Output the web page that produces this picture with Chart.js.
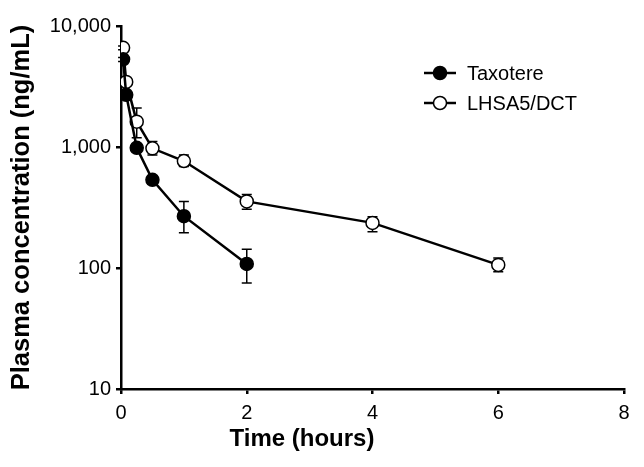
<!DOCTYPE html>
<html>
<head>
<meta charset="utf-8">
<script src="https://cdn.jsdelivr.net/npm/chart.js@4.4.1/dist/chart.umd.min.js"></script>
<style>
  html, body { margin: 0; padding: 0; background: #fff; }
  #wrap { width: 644px; height: 467px; }
</style>
</head>
<body>
<div id="wrap"><canvas id="myChart" width="644" height="467"></canvas></div>
<script>
// time points (hours)
let times = [0.033, 0.083, 0.25, 0.5, 1, 2, 4, 6];

let taxotere = [5300, 2700, 985, 535, 268, 108];
let taxotereHi = [5500, 2850, 1050, 580, 355, 143];
let taxotereLo = [5100, 2550, 920, 495, 196, 75];

let lhsa = [6600, 3450, 1620, 975, 766, 355, 236, 106];
let lhsaHi = [6850, 3650, 2100, 1110, 860, 405, 265, 121];
let lhsaLo = [6350, 3250, 1190, 860, 690, 306, 199, 93];

let yTicks = [10, 100, 1000, 10000];
let xTicks = [0, 2, 4, 6, 8];

const FONT = '"Liberation Sans", Arial, Helvetica, sans-serif';

function toPoints(vals) {
  let pts = [];
  for (let i = 0; i < vals.length; i++) {
    pts.push({ x: times[i], y: vals[i] });
  }
  return pts;
}

// whiskers, drawn before the markers so the circles sit on top
const errorBars = {
  id: 'errorBars',
  beforeDatasetsDraw(chart) {
    const ctx = chart.ctx;
    const xs = chart.scales.x, ys = chart.scales.y;
    const sets = [[taxotere, taxotereHi, taxotereLo], [lhsa, lhsaHi, lhsaLo]];
    ctx.save();
    ctx.strokeStyle = '#000';
    ctx.lineWidth = 1.5;
    sets.forEach(s => {
      for (let i = 0; i < s[0].length; i++) {
        const px = xs.getPixelForValue(times[i]);
        const top = ys.getPixelForValue(s[1][i]);
        const bot = ys.getPixelForValue(s[2][i]);
        ctx.beginPath();
        ctx.moveTo(px, top); ctx.lineTo(px, bot);
        ctx.moveTo(px - 5, top); ctx.lineTo(px + 5, top);
        ctx.moveTo(px - 5, bot); ctx.lineTo(px + 5, bot);
        ctx.stroke();
      }
    });
    ctx.restore();
  }
};

// legend inside the plot + x title offset to the left like the figure
const extras = {
  id: 'extras',
  afterDraw(chart) {
    const ctx = chart.ctx;
    ctx.save();
    const rows = [
      { label: 'Taxotere', fill: '#000', y: 73 },
      { label: 'LHSA5/DCT', fill: '#fff', y: 103 }
    ];
    rows.forEach(r => {
      ctx.strokeStyle = '#000';
      ctx.lineWidth = 2.5;
      ctx.beginPath();
      ctx.moveTo(424, r.y); ctx.lineTo(456, r.y);
      ctx.stroke();
      ctx.beginPath();
      ctx.arc(440, r.y, 6.5, 0, Math.PI * 2);
      ctx.fillStyle = r.fill;
      ctx.fill();
      ctx.lineWidth = 1.5;
      ctx.stroke();
      ctx.fillStyle = '#000';
      ctx.font = '20px ' + FONT;
      ctx.textAlign = 'left';
      ctx.textBaseline = 'middle';
      ctx.fillText(r.label, 467, r.y + 1);
    });
    ctx.font = 'bold 24px ' + FONT;
    ctx.textAlign = 'center';
    ctx.textBaseline = 'middle';
    ctx.fillText('Time (hours)', 302, 439);
    ctx.restore();
  }
};

let canvas = document.getElementById('myChart');
let ctx = canvas.getContext('2d');

let myChart = new Chart(ctx, {
  type: 'line',
  data: {
    datasets: [{
      label: 'Taxotere',
      data: toPoints(taxotere),
      borderColor: '#000',
      borderWidth: 2.5,
      backgroundColor: '#000',
      pointBackgroundColor: '#000',
      pointBorderColor: '#000',
      pointBorderWidth: 1.5,
      pointRadius: 6.5,
      tension: 0
    }, {
      label: 'LHSA5/DCT',
      data: toPoints(lhsa),
      borderColor: '#000',
      borderWidth: 2.5,
      backgroundColor: '#fff',
      pointBackgroundColor: '#fff',
      pointBorderColor: '#000',
      pointBorderWidth: 1.5,
      pointRadius: 6.5,
      tension: 0
    }]
  },
  options: {
    responsive: false,
    animation: false,
    devicePixelRatio: 1,
    layout: { padding: { top: 26, right: 20, left: 0, bottom: 0 } },
    plugins: {
      legend: { display: false },
      tooltip: { enabled: false }
    },
    scales: {
      x: {
        type: 'linear',
        min: 0,
        max: 8,
        afterBuildTicks: s => { s.ticks = xTicks.map(v => ({ value: v })); },
        afterFit: s => { s.height = 78; },
        border: { color: '#000', width: 2.5 },
        grid: { drawOnChartArea: false, drawTicks: true, tickLength: 5, color: '#000', lineWidth: 2.5 },
        ticks: { color: '#000', padding: 7, font: { family: FONT, size: 20 } }
      },
      y: {
        type: 'logarithmic',
        min: 10,
        max: 10000,
        afterBuildTicks: s => { s.ticks = yTicks.map(v => ({ value: v, major: true })); },
        afterFit: s => { s.width = 121; },
        border: { color: '#000', width: 2.5 },
        grid: { drawOnChartArea: false, drawTicks: true, tickLength: 5, color: '#000', lineWidth: 2.5 },
        ticks: {
          color: '#000',
          padding: 5,
          font: { family: FONT, size: 20 },
          callback: v => Number(v).toLocaleString('en-US')
        },
        title: {
          display: true,
          text: 'Plasma concentration (ng/mL)',
          color: '#000',
          padding: { top: 7, bottom: 0 },
          font: { family: FONT, size: 25.5, weight: 'bold' }
        }
      }
    }
  },
  plugins: [errorBars, extras]
});
</script>
</body>
</html>
